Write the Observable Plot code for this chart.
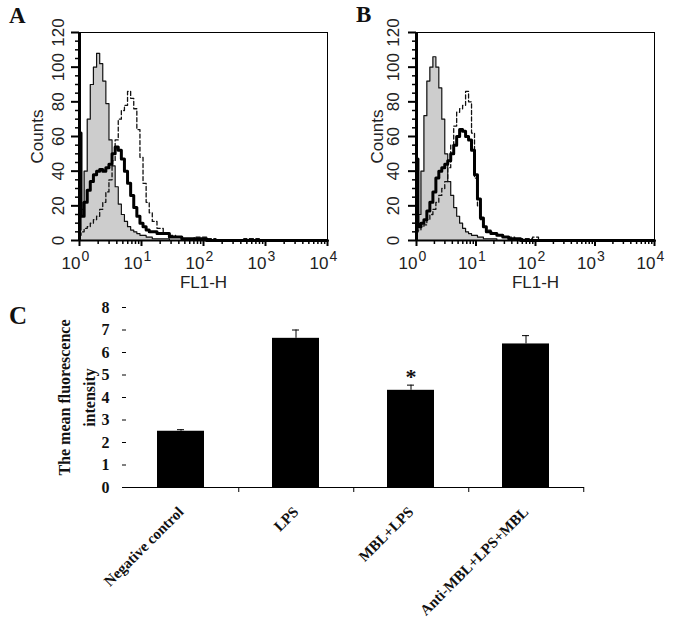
<!DOCTYPE html>
<html><head><meta charset="utf-8">
<script src="https://cdn.jsdelivr.net/npm/d3@7"></script>
<script src="https://cdn.jsdelivr.net/npm/@observablehq/plot@0.6"></script>
<style>
html,body{margin:0;padding:0;background:#fff;}
#wrap{position:relative;width:685px;height:620px;overflow:hidden;background:#fff;}
.panel{position:absolute;}
.letter{position:absolute;font-family:"Liberation Serif","Times New Roman",serif;font-weight:bold;color:#111;line-height:1;}
</style></head><body>
<div id="wrap">
  <div class="panel" id="pA" style="left:0;top:0"></div>
  <div class="panel" id="pB" style="left:340px;top:0"></div>
  <div class="panel" id="pC" style="left:0;top:290px"></div>
  <div class="letter" style="left:9px;top:4px;font-size:23px">A</div>
  <div class="letter" style="left:356px;top:3px;font-size:23px">B</div>
  <div class="letter" style="left:9px;top:303px;font-size:25px">C</div>
</div>
<script>
// ---------- Panels A and B: flow cytometry histograms ----------
// FL1-H channel positions (bin centres)
const fl = [1.00, 1.12, 1.26, 1.41, 1.58, 1.78, 2.00, 2.24, 2.51, 2.82,
            3.16, 3.55, 3.98, 4.47, 5.01, 5.62, 6.31, 7.08, 7.94, 8.91,
            10.0, 11.2, 12.6, 14.1, 15.8, 20.0, 25.1, 31.6, 39.8, 50.1,
            63.1, 79.4, 100, 126, 200, 316, 631, 1000, 3162, 10000];

// Panel A counts
const grayA   = [6,18,40,70,90,100,108,102,92,79,58,43,31,21,15,11,8,6,5,4,3,3,2,2,1,1,1,0,0,0,0,0,0,0,0,0,0,0,0,0];
const thickA  = [62,14,22,29,34,38,40,41,40,42,44,50,54,52,47,40,33,26,19,14,10,8,6,5,5,4,4,2,2,1,1,1,1,0,0,0,0,0,0,0];
const dashedA = [3,5,7,8,10,12,14,18,22,28,35,46,58,70,75,78,86,82,76,64,48,33,22,16,11,7,4,3,2,1,1,2,2,1,0,0,1,0,0,0];

// Panel B counts
const grayB   = [5,15,40,72,92,100,106,100,88,70,50,34,26,19,14,10,7,5,4,3,3,2,2,1,1,1,0,0,0,0,0,0,0,0,0,0,0,0,0,0];
const thickB  = [47,8,10,12,17,22,28,36,40,42,44,46,50,55,60,64,63,60,58,52,38,24,13,8,5,4,3,2,1,1,0,0,0,0,0,0,0,0,0,0];
const dashedB = [5,6,8,9,12,15,18,22,26,30,34,42,55,66,74,76,78,86,80,62,36,20,12,8,6,4,3,2,2,1,1,1,2,0,0,0,0,0,0,0];

// axis ticks / labels
const histYMajor = [0, 20, 40, 60, 80, 100, 120];
const histYMinor = [5,10,15,25,30,35,45,50,55,65,70,75,85,90,95,105,110,115];
const histXMajor = [1, 10, 100, 1000, 10000];
const histXBase = ["10", "10", "10", "10", "10"];
const histXExp = ["0", "1", "2", "3", "4"];
const histXMinor = [2,3,4,5,6,7,8,9,20,30,40,50,60,70,80,90,200,300,400,500,600,700,800,900,2000,3000,4000,5000,6000,7000,8000,9000];
const histYTitle = "Counts";
const histXTitle = "FL1-H";

function histPanel(gray, thick, dashed, opts) {
  const rows = fl.map((v, i) => ({fl: v, gray: gray[i], thick: thick[i], dashed: dashed[i]}));
  const xl = histXMajor.map((v, i) => ({v, base: histXBase[i], exp: histXExp[i]}));
  return Plot.plot({
    width: opts.width, height: 300,
    marginLeft: opts.ml, marginRight: opts.mr, marginTop: opts.mt, marginBottom: 60,
    style: {fontFamily: "'Liberation Sans Narrow','Liberation Sans',Arial,sans-serif", fontSize: "17px", color: "#222", background: "transparent"},
    x: {type: "log", domain: [1, 10000], axis: null},
    y: {domain: [0, 120], axis: null},
    marks: [
      Plot.areaY(rows, {x: "fl", y: "gray", curve: "step", fill: "#cdcdcd"}),
      Plot.lineY(rows, {x: "fl", y: "dashed", curve: "step", stroke: "#111", strokeWidth: 1.3, strokeDasharray: "4,2.5"}),
      Plot.lineY(rows, {x: "fl", y: "gray", curve: "step", stroke: "#111", strokeWidth: 1.2}),
      Plot.lineY(rows, {x: "fl", y: "thick", curve: "step", stroke: "#000", strokeWidth: 3}),
      Plot.frame({stroke: "#000", strokeWidth: 1}),
      Plot.ruleY([0], {stroke: "#000", strokeWidth: 2}),
      Plot.ruleX([1], {stroke: "#000", strokeWidth: 3}),
      Plot.axisY(histYMinor, {tickSize: 4, tickFormat: () => "", stroke: "#000", strokeWidth: 1.5}),
      Plot.axisY(histYMajor, {tickSize: 8, tickFormat: () => "", stroke: "#000", strokeWidth: 2}),
      Plot.axisX(histXMinor, {tickSize: 4, tickFormat: () => "", stroke: "#000", strokeWidth: 1.5}),
      Plot.axisX(histXMajor, {tickSize: 6, tickFormat: () => "", stroke: "#000", strokeWidth: 2}),
      Plot.text(histYMajor, {y: d => d, text: d => String(d), frameAnchor: "left", dx: opts.ytdx, rotate: -90, textAnchor: "middle", lineAnchor: "bottom", fill: "#222"}),
      Plot.text(xl, {x: "v", text: "base", frameAnchor: "bottom", dx: 1, dy: 16, textAnchor: "end", lineAnchor: "top", fill: "#222"}),
      Plot.text(xl, {x: "v", text: "exp", frameAnchor: "bottom", dx: 2, dy: 11, textAnchor: "start", lineAnchor: "top", fontSize: 14, fill: "#222"}),
      Plot.text([histYTitle], {text: d => d, frameAnchor: "left", dx: opts.ttdx, rotate: -90, textAnchor: "middle", lineAnchor: "bottom", fill: "#222"}),
      Plot.text([histXTitle], {text: d => d, frameAnchor: "bottom", dy: 35, lineAnchor: "top", fill: "#222"})
    ]
  });
}

document.getElementById("pA").append(histPanel(grayA, thickA, dashedA, {width: 340, ml: 79, mr: 13, mt: 32, ytdx: -16, ttdx: -37}));
document.getElementById("pB").append(histPanel(grayB, thickB, dashedB, {width: 345, ml: 76, mr: 31, mt: 32, ytdx: -18, ttdx: -34}));

// ---------- Panel C: bar chart ----------
const groups = ["Negative control", "LPS", "MBL+LPS", "Anti-MBL+LPS+MBL"];
const means  = [2.50, 6.63, 4.32, 6.38];
const errors = [0.07, 0.37, 0.23, 0.37];
const signif = [false, false, true, false];
const barYTicks = [0, 1, 2, 3, 4, 5, 6, 7, 8];
const barYTitle = "The mean fluorescence\nintensity";

const barRows = groups.map((g, i) => ({g, mean: means[i], top: means[i] + errors[i], star: signif[i]}));
const cW = 685, cML = 122, cMR = 101, cMT = 17, cMB = 133, cH = 330;
const plotWC = cW - cML - cMR, plotHC = cH - cMT - cMB, stepC = plotWC / groups.length;

document.getElementById("pC").append(Plot.plot({
  width: cW, height: cH,
  marginLeft: cML, marginRight: cMR, marginTop: cMT, marginBottom: cMB,
  style: {fontFamily: "'Liberation Serif','Times New Roman',serif", fontWeight: "bold", fontSize: "15px", color: "#111", background: "transparent"},
  x: {domain: groups, paddingInner: 0.59, paddingOuter: 0.295, axis: null},
  y: {domain: [0, 8], axis: null},
  marks: [
    Plot.barY(barRows, {x: "g", y: "mean", fill: "#000"}),
    Plot.ruleX(barRows, {x: "g", y1: "mean", y2: "top", stroke: "#000", strokeWidth: 1}),
    Plot.tickY(barRows, {x: "g", y: "top", stroke: "#000", strokeWidth: 1, insetLeft: 20, insetRight: 20}),
    Plot.text(barRows.filter(d => d.star), {x: "g", y: "top", text: () => "*", dy: -1, lineAnchor: "bottom", fontSize: 22, fill: "#111"}),
    Plot.ruleY([0], {stroke: "#000", strokeWidth: 1}),
    Plot.axisY(barYTicks, {tickSize: 0, tickFormat: () => "", line: true, stroke: "#000"}),
    Plot.tickY(barYTicks, {y: d => d, stroke: "#000", insetRight: plotWC - 4}),
    Plot.text(barYTicks, {y: d => d, text: d => String(d), frameAnchor: "left", dx: -13, textAnchor: "end", fontSize: 16, fill: "#111"}),
    Plot.ruleX(groups, {x: d => d, dx: stepC / 2, stroke: "#000", insetTop: plotHC, insetBottom: -5}),
    Plot.text(groups, {x: d => d, text: d => d, frameAnchor: "bottom", dy: 22, rotate: -45, textAnchor: "end", lineAnchor: "middle", fontSize: 15, fill: "#111"}),
    Plot.text([barYTitle], {text: d => d, frameAnchor: "left", dx: -48, rotate: -90, textAnchor: "middle", lineAnchor: "middle", lineHeight: 1.55, fontSize: 16, fill: "#111"})
  ]
}));
</script>
</body></html>
